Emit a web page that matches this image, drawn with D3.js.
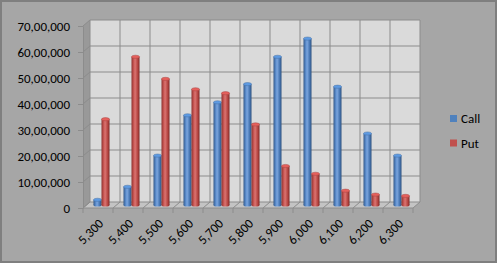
<!DOCTYPE html>
<html>
<head>
<meta charset="utf-8">
<script src="https://cdn.jsdelivr.net/npm/d3@7"></script>
<style>
  body { margin: 0; background: #fff; }
  svg text { font-family: Carlito, "Liberation Sans", Arial, sans-serif; fill: #000; }
</style>
</head>
<body>
<div class="chart"></div>
<script>
// strike prices and open interest
const strikes = ['5,300', '5,400', '5,500', '5,600', '5,700', '5,800', '5,900', '6,000', '6,100', '6,200', '6,300'];
const series = ['Call', 'Put'];
const callValues = [200000, 700000, 1900000, 3450000, 3950000, 4650000, 5700000, 6400000, 4550000, 2750000, 1900000];
const putValues = [3300000, 5700000, 4850000, 4450000, 4300000, 3100000, 1500000, 1200000, 550000, 400000, 350000];
const yTicks = [0, 1000000, 2000000, 3000000, 4000000, 5000000, 6000000, 7000000];

const colors = { Call: '#4f81bd', Put: '#c0504d' };
const shades = {
  Call: ['#34598a', '#5d8fd0', '#7ba5dd', '#4a78b4', '#2f5380'],
  Put: ['#8e3331', '#cc5956', '#d97471', '#b84845', '#7f2b29']
};

const W = 497, H = 263;
const depth = { x: 7, y: -6 };
const margin = { left: 83, right: 84, top: 26, bottom: 55 };

// indian grouping: 70,00,000
function fmt(n) {
  const s = String(Math.round(n));
  if (s.length <= 3) return s;
  let last = s.slice(-3), rest = s.slice(0, -3);
  const parts = [];
  while (rest.length > 2) { parts.unshift(rest.slice(-2)); rest = rest.slice(0, -2); }
  if (rest.length) parts.unshift(rest);
  return parts.join(',') + ',' + last;
}

const svg = d3.select('.chart').append('svg').attr('width', W).attr('height', H);

const defs = svg.append('defs');
series.forEach(s => {
  const g = defs.append('linearGradient').attr('id', 'grad-' + s)
    .attr('x1', '0%').attr('x2', '100%').attr('y1', '0%').attr('y2', '0%');
  const st = shades[s];
  [[0, st[0]], [0.3, st[1]], [0.45, st[2]], [0.75, st[3]], [1, st[4]]].forEach(([o, c]) => {
    g.append('stop').attr('offset', o).attr('stop-color', c);
  });
});

// outer frame
svg.append('rect').attr('x', 1).attr('y', 1).attr('width', W - 2).attr('height', H - 2)
  .attr('fill', '#a6a6a6').attr('stroke', '#7f7f7f').attr('stroke-width', 2);

const x0 = margin.left, x1 = W - margin.right; // front axis
const yFront = d3.scaleLinear().domain([0, 7000000]).range([208, 26]);
const yBack = yFront.copy().range([208 + depth.y, 26 + depth.y]);
const yMid = yFront.copy().range([208 + depth.y / 2, 26 + depth.y / 2]);

const xBand = d3.scaleBand().domain(strikes).range([x0, x1]);
const xInner = d3.scaleBand().domain(series).range([0, xBand.bandwidth()]).paddingOuter(0.875);

// left wall
svg.append('path')
  .attr('d', `M${x0},${yFront(0)}L${x0},${yFront(7000000)}L${x0 + depth.x},${yBack(7000000)}L${x0 + depth.x},${yBack(0)}Z`)
  .attr('fill', '#999999');
// floor
svg.append('path')
  .attr('d', `M${x0},${yFront(0)}L${x1},${yFront(0)}L${x1 + depth.x},${yBack(0)}L${x0 + depth.x},${yBack(0)}Z`)
  .attr('fill', '#c4c4c4');
// back wall
svg.append('rect')
  .attr('x', x0 + depth.x).attr('y', yBack(7000000))
  .attr('width', x1 - x0).attr('height', yBack(0) - yBack(7000000))
  .attr('fill', '#dadada');

const grid = svg.append('g').attr('stroke', '#8c8c8c').attr('stroke-width', 1).attr('fill', 'none');
// horizontal gridlines on back + side wall
yTicks.forEach(t => {
  grid.append('path')
    .attr('d', `M${x0},${yFront(t)}L${x0 + depth.x},${yBack(t)}L${x1 + depth.x},${yBack(t)}`);
});
// vertical gridlines on back wall and floor
const bounds = strikes.map(s => xBand(s)).concat([x1]);
bounds.forEach(bx => {
  grid.append('path')
    .attr('d', `M${bx},${yFront(0)}L${bx + depth.x},${yBack(0)}L${bx + depth.x},${yBack(7000000)}`);
});
// front edge of floor
grid.append('path').attr('d', `M${x0},${yFront(0)}L${x1},${yFront(0)}`);

// y axis
const yAxis = d3.axisLeft(yFront).tickValues(yTicks).tickFormat(fmt).tickSize(5).tickPadding(8).tickSizeOuter(0);
const yg = svg.append('g').attr('transform', `translate(${x0},0)`).call(yAxis);
yg.select('.domain').attr('stroke', '#8c8c8c');
yg.selectAll('.tick line').attr('stroke', '#8c8c8c');
yg.selectAll('text').style('font-size', '13px');

// x axis tick marks at category boundaries
svg.append('g').selectAll('line').data(bounds).join('line')
  .attr('x1', d => d).attr('x2', d => d)
  .attr('y1', yFront(0)).attr('y2', yFront(0) + 5)
  .attr('stroke', '#8c8c8c');

// x labels
svg.append('g').selectAll('text').data(strikes).join('text')
  .attr('transform', d => `translate(${xBand(d) + xBand.bandwidth() / 2 + 3},${yFront(0) + 13}) rotate(-45)`)
  .attr('text-anchor', 'end')
  .attr('dy', '0.35em')
  .style('font-size', '13px')
  .text(d => d);

// cylinders
const rows = strikes.map((s, i) => ({ strike: s, Call: callValues[i], Put: putValues[i] }));
const bars = svg.append('g');
const ry = 1.6;
rows.forEach(r => {
  series.forEach(s => {
    const bx = xBand(r.strike) + depth.x / 2 + xInner(s);
    const bw = xInner.bandwidth();
    const yb = yMid(0), yt = yMid(r[s]);
    const g = bars.append('g');
    g.append('ellipse').attr('cx', bx + bw / 2).attr('cy', yb).attr('rx', bw / 2).attr('ry', ry)
      .attr('fill', `url(#grad-${s})`);
    g.append('rect').attr('x', bx).attr('y', yt).attr('width', bw).attr('height', Math.max(0, yb - yt))
      .attr('fill', `url(#grad-${s})`);
    g.append('ellipse').attr('cx', bx + bw / 2).attr('cy', yt).attr('rx', bw / 2).attr('ry', ry)
      .attr('fill', d3.color(colors[s]).brighter(0.5)).attr('stroke', d3.color(colors[s]).darker(0.4)).attr('stroke-width', 0.5);
  });
});

// legend
const legend = svg.append('g').attr('transform', 'translate(450,115)');
series.forEach((s, i) => {
  const li = legend.append('g').attr('transform', `translate(0,${i * 24.5})`);
  li.append('rect').attr('width', 7).attr('height', 7).attr('fill', colors[s]);
  li.append('text').attr('x', 11).attr('y', 3.5).attr('dy', '0.35em').style('font-size', '13px').text(s);
});
</script>
</body>
</html>
